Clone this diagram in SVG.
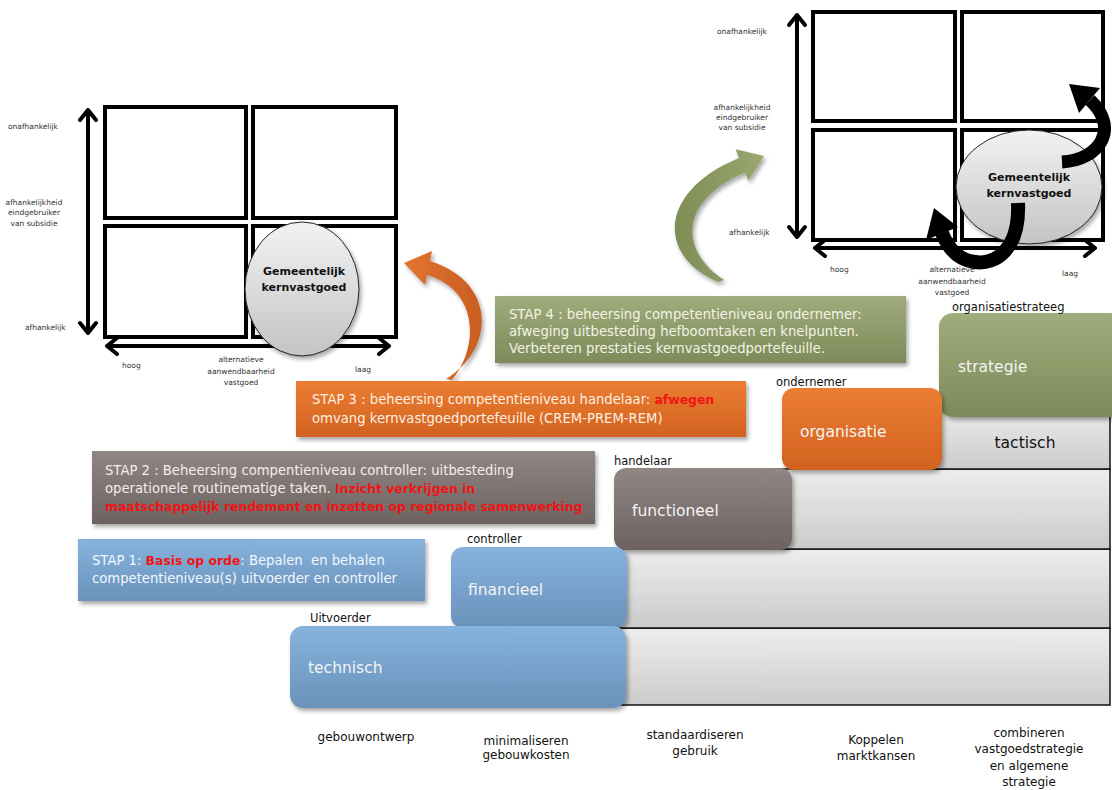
<svg xmlns="http://www.w3.org/2000/svg" width="1112" height="790" viewBox="0 0 1112 790">
<defs>
<style>
.cell{fill:#fff;stroke:#000;stroke-width:4}
.ax{fill:none;stroke:#000;stroke-width:4;stroke-linecap:round;stroke-linejoin:round}
.sm{font-family:"DejaVu Sans",sans-serif;font-size:7.5px;fill:#333}
.ell{font-family:"DejaVu Sans",sans-serif;font-size:11px;font-weight:bold;fill:#111;text-anchor:middle}
.stap{font-family:"DejaVu Sans",sans-serif;font-size:13.2px}
.red{fill:#F01414;font-weight:bold;font-size:12.4px}
.lvl{font-family:"DejaVu Sans",sans-serif;font-size:15.5px;fill:#F4F4F4}
.role{font-family:"DejaVu Sans",sans-serif;font-size:11.5px;fill:#111}
.bot{font-family:"DejaVu Sans",sans-serif;font-size:12px;fill:#111;text-anchor:middle}
.row{fill:url(#gRow);stroke:#111;stroke-width:1.5}
</style>
<linearGradient id="gRow" x1="0" y1="0" x2="0" y2="1"><stop offset="0" stop-color="#EDEDED"/><stop offset="1" stop-color="#CBCBCB"/></linearGradient>
<linearGradient id="gEll" x1="0" y1="0" x2="0" y2="1"><stop offset="0" stop-color="#F2F2F2"/><stop offset="1" stop-color="#C4C4C4"/></linearGradient>
<linearGradient id="gBlue" x1="0" y1="0" x2="0" y2="1"><stop offset="0" stop-color="#86B3DD"/><stop offset="1" stop-color="#6A92BB"/></linearGradient>
<linearGradient id="gTaupe" x1="0" y1="0" x2="0" y2="1"><stop offset="0" stop-color="#918684"/><stop offset="1" stop-color="#6C6260"/></linearGradient>
<linearGradient id="gOrange" x1="0" y1="0" x2="0" y2="1"><stop offset="0" stop-color="#EC7D32"/><stop offset="1" stop-color="#D2621F"/></linearGradient>
<linearGradient id="gGreen" x1="0" y1="0" x2="0" y2="1"><stop offset="0" stop-color="#A0AC7B"/><stop offset="1" stop-color="#7D8A59"/></linearGradient>
<linearGradient id="gArcO" x1="0" y1="0" x2="1" y2="0"><stop offset="0" stop-color="#E27430"/><stop offset="1" stop-color="#C85E22"/></linearGradient>
<linearGradient id="gArcG" x1="0" y1="0" x2="1" y2="0"><stop offset="0" stop-color="#7E8C55"/><stop offset="1" stop-color="#9AA770"/></linearGradient>
<filter id="sh" x="-10%" y="-10%" width="130%" height="140%"><feDropShadow dx="2" dy="3" stdDeviation="2" flood-color="#000" flood-opacity="0.35"/></filter>
</defs>

<g id="matrix-left">
<rect class="cell" x="105" y="107" width="141" height="111"/>
<rect class="cell" x="253" y="107" width="143" height="111"/>
<rect class="cell" x="105" y="226" width="141" height="111"/>
<rect class="cell" x="253" y="226" width="143" height="111"/>
<path class="ax" d="M88,110 V333 M80,120 L88,110 L96,120 M80,323 L88,333 L96,323"/>
<path class="ax" d="M107,346 H389 M117,338 L107,346 L117,354 M379,338 L389,346 L379,354"/>
<ellipse cx="302" cy="289" rx="57" ry="67" fill="url(#gEll)" stroke="#222" stroke-width="1" filter="url(#sh)"/>
<text class="ell" x="304" y="275">Gemeentelijk</text>
<text class="ell" x="304" y="291">kernvastgoed</text>
<text class="sm" x="8" y="129">onafhankelijk</text>
<text class="sm" text-anchor="middle"><tspan x="34" y="205">afhankelijkheid</tspan><tspan x="34" y="215">eindgebruiker</tspan><tspan x="34" y="226">van subsidie</tspan></text>
<text class="sm" x="25" y="330">afhankelijk</text>
<text class="sm" x="122" y="368">hoog</text>
<text class="sm" text-anchor="middle"><tspan x="241" y="362">alternatieve</tspan><tspan x="241" y="374">aanwendbaarheid</tspan><tspan x="241" y="385">vastgoed</tspan></text>
<text class="sm" x="355" y="372">laag</text>
</g>

<g id="matrix-right">
<rect class="cell" x="813" y="12" width="142" height="109"/>
<rect class="cell" x="962" y="12" width="141" height="109"/>
<rect class="cell" x="813" y="130" width="142" height="110"/>
<rect class="cell" x="962" y="130" width="141" height="110"/>
<path class="ax" d="M797,15 V237 M789,25 L797,15 L805,25 M789,227 L797,237 L805,227"/>
<path class="ax" d="M815,248 H1095 M825,240 L815,248 L825,256 M1085,240 L1095,248 L1085,256"/>
<ellipse cx="1029" cy="187" rx="73" ry="57" fill="url(#gEll)" stroke="#222" stroke-width="1" filter="url(#sh)"/>
<text class="ell" x="1029" y="181">Gemeentelijk</text>
<text class="ell" x="1029" y="197">kernvastgoed</text>
<text class="sm" x="717" y="34">onafhankelijk</text>
<text class="sm" text-anchor="middle"><tspan x="742" y="110">afhankelijkheid</tspan><tspan x="742" y="120">eindgebruiker</tspan><tspan x="742" y="130">van subsidie</tspan></text>
<text class="sm" x="729" y="235">afhankelijk</text>
<text class="sm" x="830" y="272">hoog</text>
<text class="sm" text-anchor="middle"><tspan x="952" y="272">alternatieve</tspan><tspan x="952" y="284">aanwendbaarheid</tspan><tspan x="952" y="295">vastgoed</tspan></text>
<text class="sm" x="1062" y="276">laag</text>
</g>

<g id="connectors">
<path d="M1018,203 C1020,250 995,265 975,262 C958,260 948,248 942,233" fill="none" stroke="#000" stroke-width="14"/>
<polygon points="934,208 958,227 926,240" fill="#000"/>
<path d="M1062,162 C1100,160 1120,128 1090,100" fill="none" stroke="#000" stroke-width="13"/>
<polygon points="1069,84 1100,88 1079,113" fill="#000"/>
<path d="M446,379 C497,347 495,281 430,261 L432,251 L404,263 L425,285 L427,275 C478,290 480,345 452,380 Z" fill="url(#gArcO)" filter="url(#sh)"/>
<path d="M718,282 C655,255 660,190 739,158 L735.6,149.2 L764,156 L748.4,180.8 L745,172.4 C680,200 678,250 724,280 Z" fill="url(#gArcG)" filter="url(#sh)"/>
</g>

<g id="rows">
<rect class="row" x="610" y="628" width="500" height="77"/>
<rect class="row" x="610" y="549" width="500" height="79"/>
<rect class="row" x="780" y="469" width="330" height="80"/>
<rect class="row" x="930" y="405" width="180" height="64"/>
<text x="1025" y="448" font-family="DejaVu Sans, sans-serif" font-size="15.5" fill="#111" text-anchor="middle">tactisch</text>
</g>

<g id="stap4">
<rect x="495" y="296" width="411" height="67" fill="url(#gGreen)" filter="url(#sh)"/>
<text class="stap" fill="#F2F3E6"><tspan x="509" y="319">STAP 4 : beheersing competentieniveau ondernemer:</tspan><tspan x="509" y="336">afweging uitbesteding hefboomtaken en knelpunten.</tspan><tspan x="509" y="353">Verbeteren prestaties kernvastgoedportefeuille.</tspan></text>
</g>

<g id="stap3">
<rect x="296" y="381" width="450" height="56" fill="url(#gOrange)" filter="url(#sh)"/>
<text class="stap" fill="#FCEFE2"><tspan x="312" y="404">STAP 3 : beheersing competentieniveau handelaar: <tspan class="red">afwegen</tspan></tspan><tspan x="312" y="423">omvang kernvastgoedportefeuille (CREM-PREM-REM)</tspan></text>
</g>

<g id="stap2">
<rect x="92" y="451" width="503" height="73" fill="url(#gTaupe)" filter="url(#sh)"/>
<text class="stap" fill="#F3EDEC"><tspan x="105" y="475">STAP 2 : Beheersing compentieniveau controller: uitbesteding</tspan><tspan x="105" y="493">operationele routinematige taken. <tspan class="red">Inzicht verkrijgen in</tspan></tspan><tspan x="105" y="511" class="red">maatschappelijk rendement en inzetten op regionale samenwerking</tspan></text>
</g>

<g id="stap1">
<rect x="78" y="539" width="347" height="62" fill="url(#gBlue)" filter="url(#sh)"/>
<text class="stap" fill="#F2F7FD"><tspan x="92" y="565">STAP 1: <tspan class="red">Basis op orde</tspan>: Bepalen&#160; en behalen</tspan><tspan x="92" y="583">competentieniveau(s) uitvoerder en controller</tspan></text>
</g>

<g id="strategie">
<rect x="939" y="313" width="185" height="104" rx="14" fill="url(#gGreen)" filter="url(#sh)"/>
<text class="lvl" x="958" y="372">strategie</text>
<text class="role" x="952" y="311">organisatiestrateeg</text>
</g>

<g id="organisatie">
<rect x="782" y="388" width="160" height="82" rx="12" fill="url(#gOrange)" filter="url(#sh)"/>
<text class="lvl" x="800" y="437">organisatie</text>
<text class="role" x="776" y="386">ondernemer</text>
</g>

<g id="functioneel">
<rect x="614" y="468" width="178" height="82" rx="12" fill="url(#gTaupe)" filter="url(#sh)"/>
<text class="lvl" x="632" y="516">functioneel</text>
<text class="role" x="614" y="465">handelaar</text>
</g>

<g id="financieel">
<rect x="451" y="547" width="176" height="81" rx="12" fill="url(#gBlue)" filter="url(#sh)"/>
<text class="lvl" x="468" y="595">financieel</text>
<text class="role" x="467" y="543">controller</text>
</g>

<g id="technisch">
<rect x="290" y="626" width="336" height="82" rx="13" fill="url(#gBlue)" filter="url(#sh)"/>
<text class="lvl" x="308" y="673">technisch</text>
<text class="role" x="310" y="622">Uitvoerder</text>
</g>

<g id="bottom-labels">
<text class="bot" x="366" y="741">gebouwontwerp</text>
<text class="bot"><tspan x="526" y="745">minimaliseren</tspan><tspan x="526" y="759">gebouwkosten</tspan></text>
<text class="bot"><tspan x="695" y="739">standaardiseren</tspan><tspan x="695" y="755">gebruik</tspan></text>
<text class="bot"><tspan x="876" y="744">Koppelen</tspan><tspan x="876" y="760">marktkansen</tspan></text>
<text class="bot"><tspan x="1029" y="737">combineren</tspan><tspan x="1029" y="753">vastgoedstrategie</tspan><tspan x="1029" y="770">en algemene</tspan><tspan x="1029" y="786">strategie</tspan></text>
</g>
</svg>
